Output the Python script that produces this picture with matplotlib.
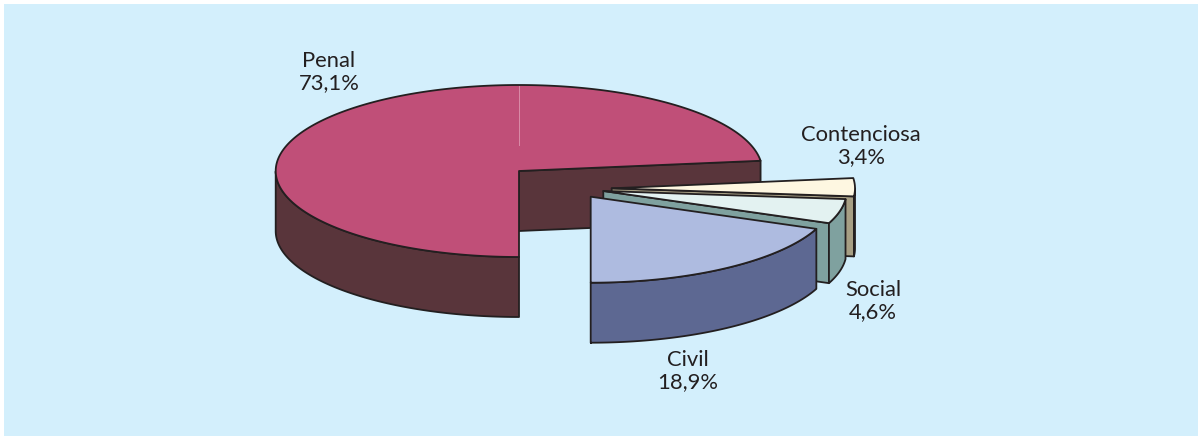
#!/usr/bin/env python3

## plot.py
# exploded 3D looking pie, drawn by hand because matplotlib has no such pie

import numpy as np
import matplotlib
matplotlib.use("Agg")
import matplotlib.pyplot as plt
from matplotlib.patches import Polygon, Rectangle

plt.rcParams['font.family'] = ['Lato', 'DejaVu Sans']

# clockwise from 6 o'clock
labels = ["Penal", "Contenciosa", "Social", "Civil"]
shares = [73.1, 3.4, 4.6, 18.9]
share_texts = ["73,1%", "3,4%", "4,6%", "18,9%"]

top_colors = ["#C04F78", "#FEF7E1", "#E3F2F1", "#AEBBE0"]
side_colors = ["#59353B", "#A79F84", "#7FA19F", "#5D6892"]

# apex of each slice in pixels
apex_x = [519, 611.7, 603.3, 590.7]
apex_y = [171, 188.3, 191, 196.7]
label_x = [329, 861, 873, 688]
label_y = [72, 146, 301, 371]

rx = 243.3
ry = 86
depth = 60
line = "#231F20"
total = sum(shares)

fig = plt.figure(figsize=(11.98, 4.36), dpi=100, facecolor="white")
ax = fig.add_axes([0, 0, 1, 1])
ax.set_xlim(0, 1198)
ax.set_ylim(436, 0)
ax.axis("off")
ax.add_patch(Rectangle((4, 4), 1194, 432, facecolor="#D3EFFC", edgecolor="none"))


def rim(cx, cy, a0, a1):
    t = np.radians(np.linspace(a0, a1, 300))
    return np.column_stack([cx + rx*np.cos(t), cy - ry*np.sin(t)])


def shape(points, color, z):
    ax.add_patch(Polygon(points, closed=True, facecolor=color, edgecolor=line,
                         linewidth=1.3, joinstyle="round", zorder=z))


start = 270.0
for i in range(len(shares)):
    end = start - 360*shares[i]/total
    cx, cy = apex_x[i], apex_y[i]
    z = 2 + i*3
    arc = rim(cx, cy, start, end)

    # straight cut wall on the far end of the slice
    p = arc[-1]
    shape([(cx, cy), p, (p[0], p[1] + depth), (cx, cy + depth)], side_colors[i], z)

    # outer wall, only the part that faces the viewer
    front = arc[arc[:, 1] >= cy]
    if len(front) > 1:
        shape(np.vstack([front, front[::-1] + [0, depth]]), side_colors[i], z + 1)

    # top face
    shape(np.vstack([[(cx, cy)], arc]), top_colors[i], z + 2)

    if i == 0:
        # faint seam on the top of the big slice
        ax.plot([cx, cx], [cy - ry + 1, cy - 26], color="#D98CA8", lw=0.7, zorder=z + 2.5)

    ax.text(label_x[i], label_y[i], f"{labels[i]}\n{share_texts[i]}", ha="center", va="center",
            fontsize=15.8, color=line, linespacing=1.15, zorder=30)
    start = end

fig.savefig("out.png", dpi=100)
